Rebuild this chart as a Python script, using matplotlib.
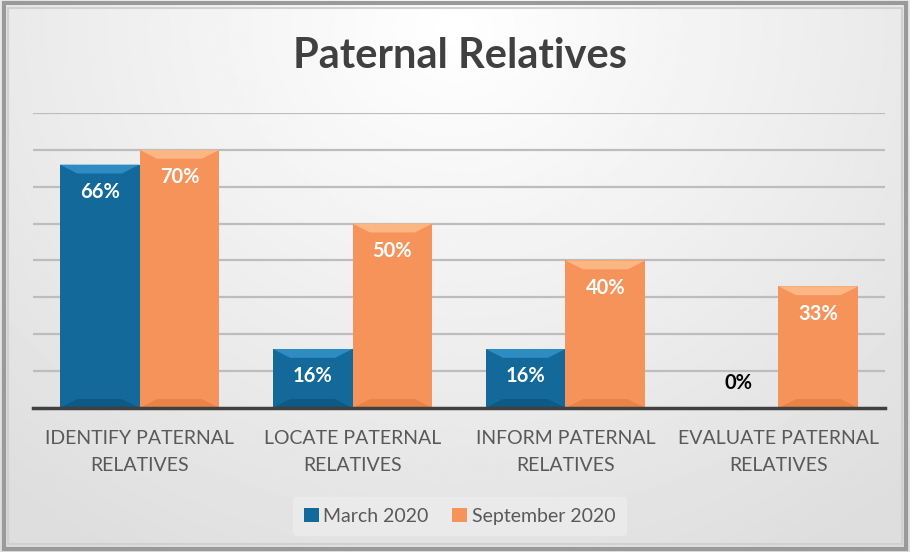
import matplotlib
matplotlib.use("Agg")
import matplotlib.pyplot as plt
from matplotlib.patches import Rectangle, Polygon
import numpy as np

categories = ["IDENTIFY PATERNAL\nRELATIVES", "LOCATE PATERNAL\nRELATIVES",
              "INFORM PATERNAL\nRELATIVES", "EVALUATE PATERNAL\nRELATIVES"]
march = [66, 16, 16, 0]
september = [70, 50, 40, 33]
series_names = ["March 2020", "September 2020"]

blue = "#12699a"
orange = "#f6935a"
blue_light = "#2f8cc2"
orange_light = "#fbb684"
blue_dark = "#0c5a85"
orange_dark = "#e98346"

plt.rcParams['font.family'] = ['Lato', 'DejaVu Sans']

fig = plt.figure(figsize=(9.1, 5.52), dpi=100)

# background gradient
bg = fig.add_axes([0, 0, 1, 1], zorder=-10)
yy, xx = np.mgrid[0:1:300j, 0:1:500j]
r = np.sqrt(((xx - 0.5) / 0.75) ** 2 + ((yy - 0.05) / 1.1) ** 2)
grad = 1.0 - 0.13 * np.clip(r, 0, 1)
bg.imshow(grad, cmap="gray", vmin=0, vmax=1, extent=[0, 1, 0, 1], aspect="auto", origin="upper")
bg.set_xlim(0, 1)
bg.set_ylim(0, 1)
bg.axis("off")
# frame
bg.add_patch(Rectangle((0.004, 0.006), 0.992, 0.988, fill=False, ec="#9a9a9a", lw=3))
bg.add_patch(Rectangle((0.009, 0.014), 0.982, 0.972, fill=False, ec="#d0d0d0", lw=1.5))

ax = fig.add_axes([0.0363, 0.2609, 0.9362, 0.5344])
ax.set_facecolor("none")
x = np.arange(len(categories))
w = 0.375
b1 = ax.bar(x - w / 2, march, w, color=blue, zorder=3, lw=0)
b2 = ax.bar(x + w / 2, september, w, color=orange, zorder=3, lw=0)

# bevel effect derived from each bar's geometry
def bevel(bars, light, dark):
    for p in bars:
        x0, y0 = p.get_x(), p.get_y()
        bw, bh = p.get_width(), p.get_height()
        if bh <= 0:
            continue
        d = min(2.4, bh / 2)
        dx = bw * 0.22
        ax.add_patch(Polygon([(x0, y0 + bh), (x0 + bw, y0 + bh), (x0 + bw - dx, y0 + bh - d),
                              (x0 + dx, y0 + bh - d)], closed=True, color=light, zorder=4, lw=0))
        ax.add_patch(Polygon([(x0, y0), (x0 + bw, y0), (x0 + bw - dx, y0 + d),
                              (x0 + dx, y0 + d)], closed=True, color=dark, zorder=4, lw=0))

bevel(b1, blue_light, blue_dark)
bevel(b2, orange_light, orange_dark)

for bars in (b1, b2):
    for p in bars:
        h = p.get_height()
        cx = p.get_x() + p.get_width() / 2
        if h > 0:
            ax.text(cx, h - 7.4, f"{h:.0f}%", ha="center", va="center", color="white",
                    fontsize=14.5, fontweight="bold", zorder=5)
        else:
            ax.text(cx, 6.8, f"{h:.0f}%", ha="center", va="center", color="black",
                    fontsize=14.5, fontweight="bold", zorder=5)

ax.set_xlim(-0.5, len(categories) - 0.5)
ax.set_ylim(0, 80)
ax.set_yticks(np.arange(10, 81, 10))
ax.yaxis.grid(True, color="#bdbdbd", lw=1.6, zorder=0)
ax.tick_params(axis="y", left=False, labelleft=False)
ax.tick_params(axis="x", bottom=False, pad=12)
ax.set_xticks(x)
ax.set_xticklabels(categories, fontsize=14, color="#595959", linespacing=1.75)
for s in ["top", "right", "left"]:
    ax.spines[s].set_visible(False)
ax.spines["bottom"].set_color("#404040")
ax.spines["bottom"].set_linewidth(2.5)
ax.spines["bottom"].set_zorder(6)

fig.text(0.505, 0.898, "Paternal Relatives", ha="center", va="center", fontsize=30,
         fontweight="bold", color="#404040")

leg = fig.legend([b1, b2], series_names, loc="center", bbox_to_anchor=(0.505, 0.065),
                 ncol=2, frameon=True, fontsize=14, handlelength=0.75, handleheight=0.75,
                 handletextpad=0.25, columnspacing=1.2, borderpad=0.55)
leg.get_frame().set_facecolor("#ececec")
leg.get_frame().set_edgecolor("#ececec")
for t in leg.get_texts():
    t.set_color("#595959")

fig.savefig("out.png", dpi=100)
